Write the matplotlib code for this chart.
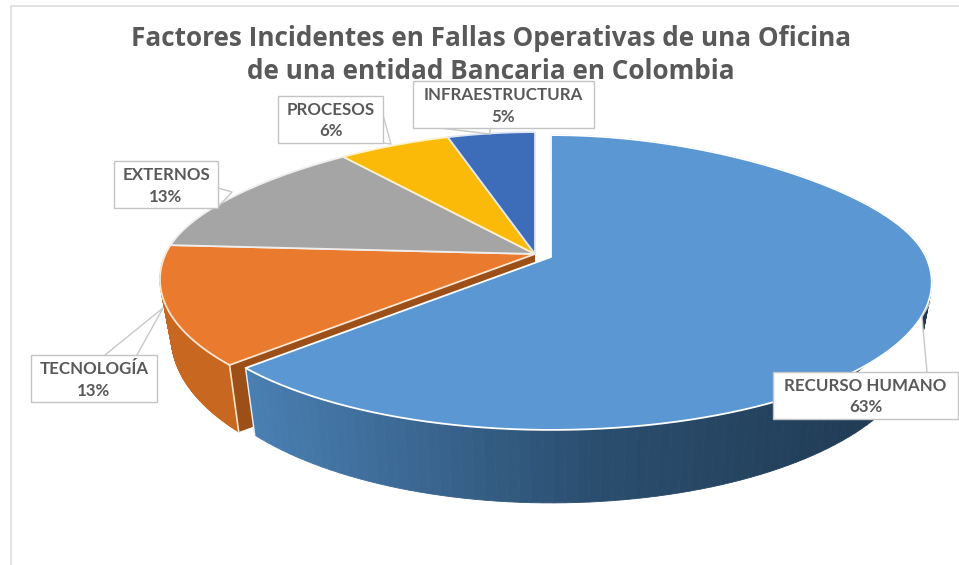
import numpy as np
import matplotlib
matplotlib.use('Agg')
import matplotlib.pyplot as plt
from matplotlib.patches import Polygon, Rectangle

# Fallas operativas por factor
categorias = ['RECURSO HUMANO', 'TECNOLOGÍA', 'EXTERNOS', 'PROCESOS', 'INFRAESTRUCTURA']
valores = [63, 13, 13, 6, 5]
colores = ['#5b97d3', '#e97a2e', '#a5a5a5', '#fbba07', '#3d6cb9']
titulo = ['Factores Incidentes en Fallas Operativas de una Oficina',
          'de una entidad Bancaria en Colombia']

# centro de cada porcion en pixeles (la azul va separada)
CX_AZUL, CX_RESTO = 551, 535
CY_AZUL, CY_RESTO = 257, 254
RX, RY, K = 375, 143, 0.173


def proyectar(theta, cx, cy, r=1.0):
    # disco visto en perspectiva, theta en grados desde arriba en sentido horario
    t = np.radians(theta)
    u, v = r * np.sin(t), r * np.cos(t)
    d = 1 + K * v
    # atras la perspectiva cierra mas en horizontal
    dx = d + 0.16 * np.clip(v, 0, None) ** 2
    esc = np.where(u < 0, 0.985, 1.0)
    return cx + RX * esc * u / dx, cy - RY * v / d


def proyectar_base(theta, cx, cy):
    # borde inferior de la pared lateral
    x, y = proyectar(theta, cx, cy)
    v = np.cos(np.radians(theta))
    return cx + 0.97 * (x - cx), y + 54 - 19 * v


def mezcla(c1, c2, f):
    a = np.array(matplotlib.colors.to_rgb(c1))
    b = np.array(matplotlib.colors.to_rgb(c2))
    return tuple(a + (b - a) * f)


fig = plt.figure(figsize=(9.59, 5.65), dpi=100)
ax = fig.add_axes([0, 0, 1, 1])
ax.set_xlim(0, 959)
ax.set_ylim(565, 0)
ax.axis('off')

# marco gris arriba y a la izquierda
ax.plot([11, 11, 959], [565, 5.5, 5.5], color='#dcdcdc', lw=1.2, zorder=1)

angulos = np.concatenate([[0], np.cumsum(valores) * 3.6])


def pared(ini, fin, cx, cy, c_izq, c_med, c_der, z):
    # tira por tira para que la pared tenga degradado
    th = np.linspace(ini, fin, 150)
    x0, y0 = proyectar(th, cx, cy)
    x1, y1 = proyectar_base(th, cx, cy)
    for i in range(len(th) - 1):
        f = (x0[i] - 250) / 680
        f = min(max(f, 0), 1)
        col = mezcla(c_izq, c_med, f * 2) if f < 0.5 else mezcla(c_med, c_der, f * 2 - 1)
        ax.add_patch(Polygon([(x0[i], y0[i]), (x0[i + 1], y0[i + 1]),
                              (x1[i + 1], y1[i + 1]), (x1[i], y1[i])],
                             fc=col, ec=col, lw=0.6, zorder=z))


def cara(ini, fin, cx, cy, color, borde, z):
    th = np.linspace(ini, fin, 120)
    x, y = proyectar(th, cx, cy)
    pts = [(cx, cy)] + list(zip(x, y))
    ax.add_patch(Polygon(pts, closed=True, fc=color, ec=borde, lw=1.3, joinstyle='round', zorder=z))


# pared de tecnologia, solo se ve hasta el borde izquierdo
ini_t, fin_t = angulos[1], angulos[2]
pared(ini_t, 268, CX_RESTO, CY_RESTO, '#c8671f', '#c8671f', '#c8671f', 3)
xb, yb = proyectar(ini_t, CX_RESTO, CY_RESTO)
xc, yc = proyectar_base(ini_t, CX_RESTO, CY_RESTO)
# cara de corte de tecnologia
ax.add_patch(Polygon([(CX_RESTO, CY_RESTO), (xb, yb), (xc, yc), (CX_RESTO, CY_RESTO + 70)],
                     fc='#9c4f17', ec='none', zorder=3.5))
ax.plot([xb, xc], [yb, yc], color='#fbe3c8', lw=1.2, zorder=3.6)

# caras superiores de las porciones de atras
borde_cara = ['#ffffff', '#fde6d2', '#eeeeee', '#fff0c8', '#dfe6f5']
for i in range(1, len(valores)):
    cara(angulos[i], angulos[i + 1], CX_RESTO, CY_RESTO, colores[i], borde_cara[i], 4 + i * 0.1)

# pared y cara de la porcion azul
pared(angulos[0], angulos[1], CX_AZUL, CY_AZUL, '#4a7fb3', '#2b4f70', '#1f3850', 5)
ax.add_patch(Polygon([(858, 372), (927, 372), (922, 317)], fc='white', ec='none', zorder=5.5))
ax.plot([927, 922], [372, 317], color='#c8c8c8', lw=1, zorder=5.6)
cara(angulos[0], angulos[1], CX_AZUL, CY_AZUL, colores[0], 'white', 6)
xa, ya = proyectar(angulos[1], CX_AZUL, CY_AZUL)
xd, yd = proyectar_base(angulos[1], CX_AZUL, CY_AZUL)
ax.plot([xa, xd], [ya, yd], color='#eaf2fa', lw=1, zorder=6.1)

# cajas de etiquetas: x0, y0, x1, y1
cajas = [(773, 372, 958, 419), (31, 355, 157, 402), (114, 161, 218, 208),
         (278, 96, 383, 143), (413, 81, 594, 128)]
# lineas de llamada
llamadas = [[(922, 317), (930, 303)],
            [(105, 355), (163, 308), (137, 355)],
            [(218, 188), (232, 192), (218, 207)],
            [(383, 115), (391, 144), (383, 143)],
            [(440, 128), (490, 134), (490, 128)]]

for nombre, val, caja, ll in zip(categorias, valores, cajas, llamadas):
    x0, y0, x1, y1 = caja
    ax.add_patch(Rectangle((x0, y0), x1 - x0, y1 - y0, fc='white', ec='#c4c4c4', lw=1, zorder=8))
    xm = (x0 + x1) / 2
    ax.text(xm, y0 + 14, nombre, ha='center', va='center', fontsize=12.2, family='Lato',
            weight='bold', color='#595959', zorder=9)
    ax.text(xm, y0 + 35.5, '%d%%' % val, ha='center', va='center', fontsize=12.2, family='Lato',
            weight='bold', color='#595959', zorder=9)
    ax.plot([p[0] for p in ll], [p[1] for p in ll], color='#c8c8c8', lw=1, zorder=7)

ax.text(491, 38, titulo[0], ha='center', va='center', fontsize=18.8, family='Open Sans',
        weight='bold', color='#595959', zorder=9)
ax.text(491, 71.5, titulo[1], ha='center', va='center', fontsize=18.8, family='Open Sans',
        weight='bold', color='#595959', zorder=9)

plt.savefig('out.png', dpi=100)
